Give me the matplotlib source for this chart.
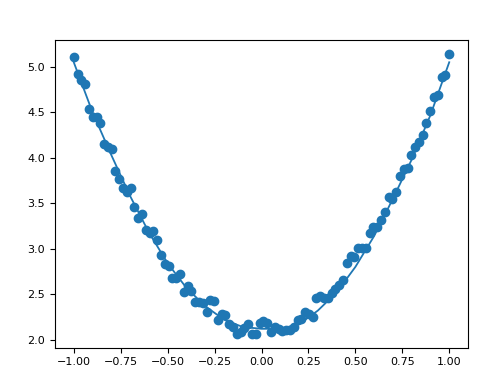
import matplotlib
matplotlib.use("Agg")
import matplotlib.pyplot as plt
import numpy as np

# scattered samples
y_points = [5.109, 4.923, 4.858, 4.814, 4.540, 4.453, 4.453, 4.387, 4.146, 4.113,
            4.091, 3.850, 3.763, 3.664, 3.620, 3.664, 3.456, 3.336, 3.380, 3.204,
            3.171, 3.193, 3.095, 2.931, 2.832, 2.810, 2.679, 2.679, 2.723, 2.525,
            2.591, 2.536, 2.416, 2.416, 2.405, 2.306, 2.438, 2.427, 2.219, 2.285,
            2.274, 2.175, 2.142, 2.066, 2.088, 2.131, 2.175, 2.066, 2.066, 2.186,
            2.208, 2.186, 2.088, 2.142, 2.120, 2.098, 2.109, 2.109, 2.142, 2.219,
            2.230, 2.306, 2.285, 2.252, 2.460, 2.482, 2.460, 2.460, 2.515, 2.558,
            2.602, 2.657, 2.843, 2.920, 2.909, 3.007, 3.007, 3.007, 3.171, 3.237,
            3.237, 3.320, 3.401, 3.566, 3.544, 3.620, 3.796, 3.872, 3.883, 4.026,
            4.113, 4.168, 4.245, 4.387, 4.518, 4.672, 4.693, 4.891, 4.912, 5.142]
x_points = np.linspace(-1, 1, len(y_points))

# fitted curve
x_line = [-1.0, -0.9, -0.8, -0.7, -0.6, -0.5, -0.4, -0.3, -0.2, -0.1, 0.0,
          0.1, 0.2, 0.3, 0.4, 0.5, 0.6, 0.7, 0.8, 0.9, 1.0]
y_line = [5.05, 4.50, 4.03, 3.58, 3.18, 2.84, 2.57, 2.37, 2.22, 2.14, 2.12,
          2.12, 2.17, 2.32, 2.52, 2.80, 3.14, 3.55, 3.98, 4.47, 5.05]

fig = plt.figure(figsize=(5, 3.8), dpi=100)
ax = fig.add_axes([0.11, 0.085, 0.826, 0.81])
ax.scatter(x_points, y_points, s=36, color='#1f77b4')
ax.plot(x_line, y_line, color='#1f77b4', lw=1.3)
ax.set_xticks([-1.0, -0.75, -0.5, -0.25, 0.0, 0.25, 0.5, 0.75, 1.0])
ax.tick_params(labelsize=8)
fig.savefig("out.png", dpi=100)
